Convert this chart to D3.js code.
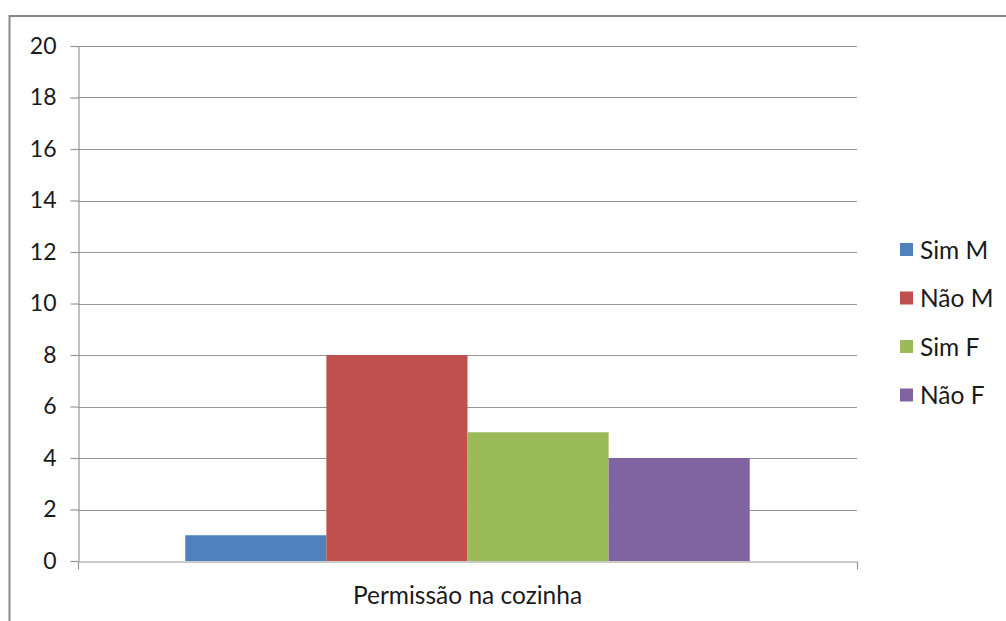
<!DOCTYPE html>
<html>
<head>
<meta charset="utf-8">
<script src="https://cdn.jsdelivr.net/npm/d3@7"></script>
<style>
  body { margin: 0; background: #fff; }
  text { font-family: Lato, "Open Sans", sans-serif; fill: #1a1a1a; }
</style>
</head>
<body>
<svg width="1006" height="621"></svg>
<script>
// data
const categories = ["Permissão na cozinha"];
const seriesNames = ["Sim M", "Não M", "Sim F", "Não F"];
const seriesValues = [1, 8, 5, 4];
const seriesColors = ["#4F81BD", "#C0504D", "#9BBB59", "#8064A2"];
const yTicks = [0, 2, 4, 6, 8, 10, 12, 14, 16, 18, 20];

const svg = d3.select("svg");

// outer chart border (only top and left visible in the frame)
svg.append("path")
    .attr("d", "M9.5,621 L9.5,16 L1006,16")
    .attr("fill", "none")
    .attr("stroke", "#898989")
    .attr("stroke-width", 2);

const plot = { left: 78, right: 857, top: 46, bottom: 561 };

const y = d3.scaleLinear()
    .domain([0, 20])
    .range([plot.bottom, plot.top]);

const x0 = d3.scaleBand()
    .domain(categories)
    .range([plot.left, plot.right])
    .paddingInner(0)
    .paddingOuter(0.19);

const x1 = d3.scaleBand()
    .domain(seriesNames)
    .range([0, x0.bandwidth()])
    .padding(0);

// gridlines
svg.append("g")
    .selectAll("line")
    .data(yTicks.filter(d => d > 0))
    .enter()
    .append("line")
    .attr("x1", plot.left)
    .attr("x2", plot.right)
    .attr("y1", d => Math.round(y(d)) + 0.5)
    .attr("y2", d => Math.round(y(d)) + 0.5)
    .attr("stroke", "#969696")
    .attr("stroke-width", 1.2);

// bars
svg.append("g")
    .selectAll("rect")
    .data(seriesNames.map((s, i) => ({ cat: categories[0], name: s, value: seriesValues[i], color: seriesColors[i] })))
    .enter()
    .append("rect")
    .attr("x", d => x0(d.cat) + x1(d.name))
    .attr("y", d => y(d.value))
    .attr("width", x1.bandwidth())
    .attr("height", d => y(0) - y(d.value))
    .attr("fill", d => d.color);

// y axis
const yAxis = svg.append("g")
    .attr("transform", `translate(${plot.left + 0.5},0)`)
    .call(d3.axisLeft(y).tickValues(yTicks).tickSize(8).tickPadding(14).tickSizeOuter(0));
yAxis.select(".domain").attr("stroke", "#969696").attr("stroke-width", 1.2);
yAxis.selectAll(".tick line").attr("stroke", "#969696").attr("stroke-width", 1.2);
yAxis.selectAll(".tick text")
    .style("font-family", "Lato, 'Open Sans', sans-serif")
    .style("font-size", "23px")
    .attr("fill", "#1a1a1a");

// x axis
const xAxis = svg.append("g")
    .attr("transform", `translate(0,${plot.bottom + 0.5})`)
    .call(d3.axisBottom(x0).tickSize(0).tickSizeOuter(8).tickPadding(25));
xAxis.select(".domain").attr("stroke", "#969696").attr("stroke-width", 1.2);
xAxis.selectAll(".tick text")
    .style("font-family", "Lato, 'Open Sans', sans-serif")
    .style("font-size", "24.5px")
    .attr("fill", "#1a1a1a");

// legend
const legend = svg.append("g")
    .attr("transform", "translate(900,250)");
const item = legend.selectAll("g")
    .data(seriesNames)
    .enter()
    .append("g")
    .attr("transform", (d, i) => `translate(0,${i * 48.5})`);
item.append("rect")
    .attr("x", 0)
    .attr("y", -7)
    .attr("width", 13)
    .attr("height", 13)
    .attr("fill", (d, i) => seriesColors[i]);
item.append("text")
    .attr("x", 20)
    .attr("y", 0)
    .attr("dy", "0.35em")
    .style("font-size", "24.5px")
    .text(d => d);
</script>
</body>
</html>
